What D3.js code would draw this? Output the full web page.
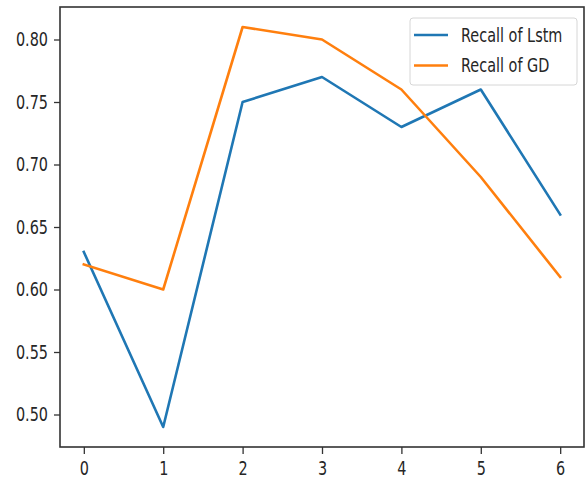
<!DOCTYPE html>
<html>
<head>
<meta charset="utf-8">
<script src="https://cdn.jsdelivr.net/npm/d3@7"></script>
<style>
  html, body { margin: 0; padding: 0; background: #fff; }
  svg { display: block; }
  text { font-family: "DejaVu Sans", sans-serif; fill: #262626; }
</style>
</head>
<body>
<svg id="chart" width="587" height="480"></svg>
<script>
// Epochs on the x axis
const epochs = [0, 1, 2, 3, 4, 5, 6];
// Recall per epoch for each model
const recallLstm = [0.63, 0.49, 0.75, 0.77, 0.73, 0.76, 0.66];
const recallGD = [0.62, 0.60, 0.81, 0.80, 0.76, 0.69, 0.61];
const seriesNames = ["Recall of Lstm", "Recall of GD"];
const seriesColors = ["#1f77b4", "#ff7f0e"];
const yTicks = [0.50, 0.55, 0.60, 0.65, 0.70, 0.75, 0.80];
const xTicks = [0, 1, 2, 3, 4, 5, 6];

const W = 587, H = 480;
const margin = { left: 60, right: 3, top: 7, bottom: 33 };
const innerW = W - margin.left - margin.right;
const innerH = H - margin.top - margin.bottom;
const fontSize = 19;
const squeeze = 0.76; // glyphs are drawn horizontally condensed

const svg = d3.select("#chart");
const g = svg.append("g").attr("transform", `translate(${margin.left},${margin.top})`);

const x = d3.scaleLinear().domain([-0.3, 6.3]).range([0, innerW]);
const y = d3.scaleLinear().domain([0.474, 0.826]).range([innerH, 0]);

// Axes
const xAxis = g.append("g")
  .attr("transform", `translate(0,${innerH})`)
  .call(d3.axisBottom(x).tickValues(xTicks).tickFormat(d3.format("d")).tickSize(7).tickPadding(5));
const yAxis = g.append("g")
  .call(d3.axisLeft(y).tickValues(yTicks).tickFormat(d3.format(".2f")).tickSize(6).tickPadding(5));

[xAxis, yAxis].forEach(ax => {
  ax.select(".domain").remove();
  ax.selectAll(".tick line").attr("stroke", "#333").attr("stroke-width", 1.3);
  ax.selectAll(".tick text").style("font-size", fontSize + "px").style("font-family", "DejaVu Sans, sans-serif").attr("fill", "#262626");
});
yAxis.selectAll(".tick text")
  .attr("x", -12 / squeeze)
  .attr("transform", `scale(${squeeze},1)`);
xAxis.selectAll(".tick text")
  .attr("y", 14.5)
  .attr("transform", `scale(${squeeze},1)`)
  .attr("x", 0);

// Lines
const line = d3.line().x((d, i) => x(epochs[i])).y(d => y(d));
[recallLstm, recallGD].forEach((vals, k) => {
  g.append("path")
    .datum(vals)
    .attr("fill", "none")
    .attr("stroke", seriesColors[k])
    .attr("stroke-width", 2.6)
    .attr("stroke-linejoin", "round")
    .attr("stroke-linecap", "square")
    .attr("d", line);
});

// Plot frame
g.append("rect")
  .attr("width", innerW).attr("height", innerH)
  .attr("fill", "none").attr("stroke", "#333").attr("stroke-width", 1.6);

// Legend
const leg = g.append("g").attr("transform", `translate(${410 - margin.left},${18 - margin.top})`);
leg.append("rect")
  .attr("width", 167).attr("height", 67).attr("rx", 3)
  .attr("fill", "#fff").attr("fill-opacity", 0.8)
  .attr("stroke", "#d6d6d6").attr("stroke-width", 1);
seriesNames.forEach((name, k) => {
  const yy = 17 + k * 30.5;
  leg.append("line").attr("x1", 4).attr("x2", 38).attr("y1", yy).attr("y2", yy)
    .attr("stroke", seriesColors[k]).attr("stroke-width", 2.6);
  leg.append("text")
    .attr("x", 51 / squeeze).attr("y", yy).attr("dy", "0.35em")
    .attr("transform", `scale(${squeeze},1)`)
    .style("font-size", fontSize + "px")
    .text(name);
});
</script>
</body>
</html>
